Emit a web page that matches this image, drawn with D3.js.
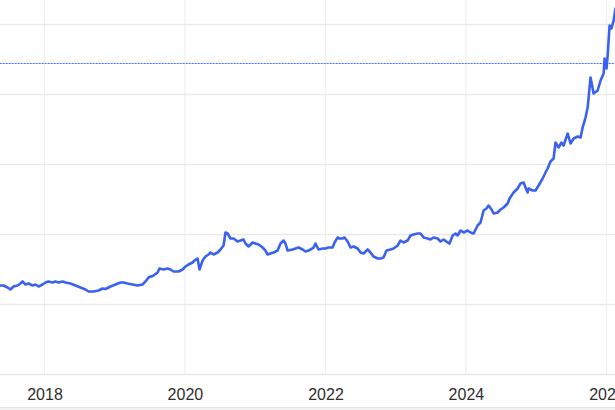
<!DOCTYPE html>
<html>
<head>
<meta charset="utf-8">
<script src="https://cdn.jsdelivr.net/npm/d3@7/dist/d3.min.js"></script>
<style>
  html, body { margin: 0; padding: 0; background: #ffffff; }
  svg { display: block; }
</style>
</head>
<body>
<svg id="chart" width="615" height="410"></svg>
<script>
// ---- data ----
const dates = [
  "2017-05-17","2017-06-02","2017-06-23","2017-07-08","2017-07-24","2017-08-14","2017-08-29","2017-09-09","2017-09-24","2017-10-10",
  "2017-10-31","2017-11-15","2017-12-01","2017-12-22","2018-01-06","2018-01-22","2018-02-12","2018-02-27","2018-03-15","2018-04-05",
  "2018-04-20","2018-05-16","2018-06-11","2018-07-07","2018-08-02","2018-08-18","2018-09-13","2018-10-09","2018-10-30","2018-11-14",
  "2018-11-30","2018-12-10","2019-01-05","2019-01-31","2019-02-16","2019-03-09","2019-04-04","2019-04-30","2019-05-26","2019-06-10",
  "2019-06-26","2019-07-22","2019-08-12","2019-08-22","2019-09-12","2019-10-03","2019-10-18","2019-11-03","2019-11-29","2019-12-20",
  "2020-01-04","2020-01-20","2020-02-10","2020-02-20","2020-03-07","2020-03-17","2020-04-02","2020-04-17","2020-05-03","2020-05-13",
  "2020-05-29","2020-06-19","2020-07-04","2020-07-20","2020-07-30","2020-08-10","2020-08-25","2020-09-10","2020-10-01","2020-10-16",
  "2020-11-01","2020-11-11","2020-11-27","2020-12-18","2021-01-02","2021-01-18","2021-02-08","2021-02-23","2021-03-06","2021-03-21",
  "2021-04-06","2021-04-27","2021-05-12","2021-05-28","2021-06-07","2021-06-18","2021-07-14","2021-07-29","2021-08-14","2021-09-04",
  "2021-09-19","2021-10-05","2021-10-31","2021-11-10","2021-11-26","2021-12-17","2022-01-01","2022-01-17","2022-02-07","2022-02-17",
  "2022-03-05","2022-03-15","2022-03-31","2022-04-10","2022-04-26","2022-05-11","2022-05-27","2022-06-17","2022-07-02","2022-07-18",
  "2022-08-08","2022-08-23","2022-09-08","2022-09-29","2022-10-14","2022-10-30","2022-11-14","2022-12-05","2022-12-21","2023-01-11",
  "2023-01-26","2023-02-11","2023-03-04","2023-03-19","2023-04-04","2023-04-25","2023-05-10","2023-05-26","2023-06-16","2023-07-01",
  "2023-07-17","2023-08-07","2023-08-22","2023-09-07","2023-09-28","2023-10-08","2023-10-24","2023-11-08","2023-11-19","2023-12-04",
  "2023-12-20","2024-01-10","2024-01-25","2024-02-10","2024-03-02","2024-03-17","2024-04-02","2024-04-17","2024-04-28","2024-05-13",
  "2024-05-24","2024-06-14","2024-06-29","2024-07-15","2024-08-05","2024-08-15","2024-09-05","2024-09-26","2024-10-11","2024-10-27",
  "2024-11-06","2024-11-17","2024-11-22","2024-12-13","2024-12-28","2025-01-13","2025-02-03","2025-02-18","2025-03-01","2025-03-16",
  "2025-04-01","2025-04-11","2025-04-27","2025-05-12","2025-05-23","2025-06-13","2025-06-28","2025-07-14","2025-08-04","2025-08-19",
  "2025-08-30","2025-09-14","2025-09-25","2025-10-10","2025-10-26","2025-11-16","2025-12-01","2025-12-17","2025-12-22","2026-01-01",
  "2026-01-07","2026-01-17","2026-01-27","2026-02-07","2026-02-17"
];
const prices = [
  1271,1271,1243,1214,1257,1271,1300,1329,1286,1300,
  1271,1286,1257,1286,1314,1329,1314,1329,1314,1329,
  1314,1300,1271,1243,1214,1186,1186,1200,1229,1221,
  1243,1257,1286,1314,1314,1300,1286,1271,1286,1329,
  1386,1414,1457,1514,1500,1514,1500,1471,1471,1500,
  1543,1571,1600,1629,1657,1500,1629,1686,1714,1743,
  1714,1743,1786,1843,2029,2014,1943,1943,1900,1914,
  1929,1871,1829,1886,1871,1857,1814,1771,1714,1729,
  1743,1771,1871,1914,1871,1771,1786,1800,1814,1786,
  1757,1771,1814,1871,1786,1800,1800,1814,1814,1886,
  1957,1943,1943,1957,1900,1814,1829,1800,1743,1729,
  1786,1743,1686,1657,1657,1671,1771,1786,1800,1843,
  1914,1886,1914,1986,2000,2014,2014,1957,1943,1929,
  1957,1943,1900,1929,1886,1871,1986,2014,1986,2057,
  2029,2057,2029,2014,2129,2171,2343,2371,2414,2357,
  2300,2314,2357,2386,2443,2514,2600,2657,2729,2743,
  2671,2600,2657,2629,2629,2700,2800,2886,2943,3043,
  3086,3314,3243,3314,3271,3443,3300,3371,3400,3386,
  3529,3671,3814,4243,4014,4057,4200,4300,4514,4371,
  4557,4986,4943,5057,5229
];
const xTickYears = [2018, 2020, 2022, 2024, 2026];
const yTickValues = [1000, 2000, 3000, 4000, 5000];
const referenceLevel = 4457;

// ---- drawing ----
const W = 615, H = 410;
const svg = d3.select("#chart");
const parse = d3.timeParse("%Y-%m-%d");
const data = dates.map((d, i) => ({ date: parse(d), value: prices[i] }));

const x = d3.scaleTime()
  .domain([new Date(2018, 0, 1), new Date(2026, 0, 1)])
  .range([44.5, 606.5]);
const y = d3.scaleLinear()
  .domain([0, 5000])
  .range([374.5, 24.5]);

// bottom grey strip
svg.append("rect").attr("x", 0).attr("y", 407).attr("width", W).attr("height", 3).attr("fill", "#f2f2f2");
svg.append("line").attr("x1", 0).attr("x2", W).attr("y1", 407.5).attr("y2", 407.5)
  .attr("stroke", "#e4e4e4").attr("stroke-width", 1);

// vertical grid
svg.append("g").selectAll("line")
  .data(xTickYears).join("line")
  .attr("x1", d => x(new Date(d, 0, 1))).attr("x2", d => x(new Date(d, 0, 1)))
  .attr("y1", 0).attr("y2", 375)
  .attr("stroke", "#eef0f5").attr("stroke-width", 1.2);

// horizontal grid
svg.append("g").selectAll("line")
  .data(yTickValues).join("line")
  .attr("x1", 0).attr("x2", W)
  .attr("y1", d => y(d)).attr("y2", d => y(d))
  .attr("stroke", "#e9e9e9").attr("stroke-width", 1.5);

// x axis
const xAxis = d3.axisBottom(x)
  .tickValues(xTickYears.map(yr => new Date(yr, 0, 1)))
  .tickFormat(d3.timeFormat("%Y"))
  .tickSize(0).tickPadding(14);
const gx = svg.append("g").attr("transform", `translate(0,${y(0)})`).call(xAxis);
gx.select(".domain").attr("d", `M0,0H${W}`).attr("stroke", "#e6e6e6").attr("stroke-width", 1.5);
gx.selectAll("text")
  .attr("font-family", "'Liberation Sans', Arial, Helvetica, sans-serif")
  .attr("font-size", 16).attr("fill", "#2e2e2e");

// reference dotted line (faint blue underlay + blue dots)
const refY = Math.round(y(referenceLevel)) + 0.5;
svg.append("line")
  .attr("x1", 0).attr("x2", W).attr("y1", refY).attr("y2", refY)
  .attr("stroke", "#bccbff").attr("stroke-width", 1.2);
svg.append("line")
  .attr("x1", 0).attr("x2", W).attr("y1", refY).attr("y2", refY)
  .attr("stroke", "#4a6fff").attr("stroke-width", 1.2)
  .attr("stroke-dasharray", "1.5,1.5");

// price line
const line = d3.line().x(d => x(d.date)).y(d => y(d.value));
svg.append("path")
  .datum(data)
  .attr("fill", "none")
  .attr("stroke", "#3a62ee")
  .attr("stroke-width", 2.6)
  .attr("stroke-linejoin", "round")
  .attr("stroke-linecap", "round")
  .attr("d", line);
</script>
</body>
</html>
